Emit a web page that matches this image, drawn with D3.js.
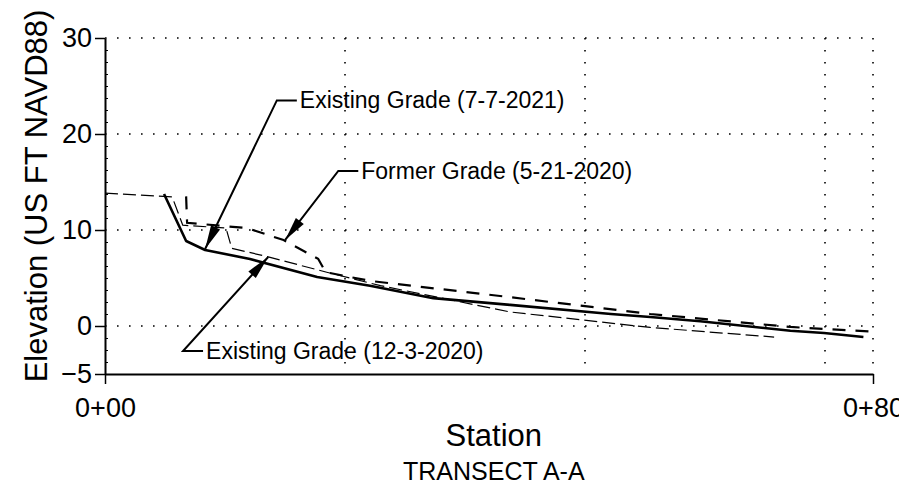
<!DOCTYPE html>
<html>
<head>
<meta charset="utf-8">
<script src="https://cdn.jsdelivr.net/npm/d3@7"></script>
<style>
  body { margin: 0; background: #fff; }
  svg text { font-family: 'Liberation Sans', Arial, sans-serif; fill: #000; }
</style>
</head>
<body>
<div id="graf"></div>
<script>
// Transect A-A profile: station (ft) vs elevation (US FT NAVD88)

// series, [station, elevation]
existing2021 = [[6.15, 13.75], [8.45, 8.85], [10.43, 7.92], [15.1, 6.98], [22.1, 5.1], [27.6, 4.2],
                [34.2, 2.9], [42.2, 2.2], [52.7, 1.25], [56.8, 0.94], [62.0, 0.5], [71.4, -0.5],
                [74.9, -0.73], [79.0, -1.15]]
former2020   = [[8.45, 13.5], [8.55, 10.75], [14.8, 10.2], [18.6, 8.95], [22.2, 7.0], [23.0, 5.6],
                [27.6, 4.7], [42.2, 3.0], [56.8, 1.25], [71.4, -0.1], [80.1, -0.6]]
existing2020 = [[0, 13.85], [7.0, 13.44], [8.1, 10.5], [12.6, 10.2], [13.2, 8.1], [17.0, 7.2],
                [23.1, 5.6], [28.7, 4.2], [42.2, 1.46], [56.8, -0.15], [69.7, -1.15]]

// ticks
yTicks = [-5, 0, 10, 20, 30]
yMinor = [1.25, 2.5, 3.75, 5, 6.25, 7.5, 8.75, 11.25, 12.5, 13.75, 15, 16.25, 17.5, 18.75,
          21.25, 22.5, 23.75, 25, 26.25, 27.5, 28.75, -1.25, -2.5, -3.75]
yGrid  = [0, 10, 20, 30]
xTicks = [0, 80]
xTickLabels = ['0+00', '0+80']
xGrid  = [25, 50, 75, 80]

// callouts: label, tip [sta, elev], elbow [sta, elev]
labels = ['Existing Grade (7-7-2021)', 'Former Grade (5-21-2020)', 'Existing Grade (12-3-2020)']
tips   = [[10.43, 8.02], [18.77, 8.96], [17.0, 7.19]]
elbows = [[17.9, 23.5], [24.3, 16.15], [8.13, -2.6]]

ancho_total = 899
alto_total  = 490
margins = { top: 38, left: 105, right: 26, bottom: 116 }
ancho = ancho_total - margins.left - margins.right
alto  = alto_total - margins.top - margins.bottom

svg = d3.select('#graf').append('svg')
        .attr('width', ancho_total)
        .attr('height', alto_total)

g = svg.append('g')
       .attr('transform', `translate(${margins.left}, ${margins.top})`)

x = d3.scaleLinear().domain([0, 80]).range([0, ancho])
y = d3.scaleLinear().domain([-5, 30]).range([alto, 0])

// dotted grid
g.selectAll('.hgrid').data(yGrid).enter()
  .append('line')
    .attr('x1', 0).attr('x2', x(80))
    .attr('y1', d => y(d)).attr('y2', d => y(d))
    .attr('stroke', '#000').attr('stroke-width', 1.6)
    .attr('stroke-dasharray', '1.6,10.4')

g.selectAll('.vgrid').data(xGrid).enter()
  .append('line')
    .attr('x1', d => x(d)).attr('x2', d => x(d))
    .attr('y1', y(30)).attr('y2', y(-5))
    .attr('stroke', '#000').attr('stroke-width', 1.6)
    .attr('stroke-dasharray', '1.6,10.4')

// axes
yAxis = d3.axisLeft(y).tickValues(yTicks).tickSize(10).tickSizeOuter(0).tickPadding(3)
yAxisMinor = d3.axisRight(y).tickValues(yMinor).tickSize(3).tickSizeOuter(0).tickFormat('')
xAxis = d3.axisBottom(x).tickValues(xTicks).tickSize(10).tickSizeOuter(0).tickPadding(14)
          .tickFormat((d, i) => xTickLabels[i])

yG = g.append('g').call(yAxis)
yMinorG = g.append('g').call(yAxisMinor)
yMinorG.select('.domain').remove()
yMinorG.selectAll('.tick line').attr('stroke-width', 1)
xG = g.append('g').attr('transform', `translate(0,${alto})`).call(xAxis)

;[yG, xG].forEach(a => {
  a.select('.domain').attr('stroke-width', 2)
  a.selectAll('.tick line').attr('stroke-width', 1.5)
  a.selectAll('text').attr('font-size', '27px').attr('font-family', 'Liberation Sans, Arial, sans-serif')
})

// profile lines
line = d3.line().x(d => x(d[0])).y(d => y(d[1]))

g.append('path').datum(existing2020)
  .attr('d', line).attr('fill', 'none')
  .attr('stroke', '#000').attr('stroke-width', 1.2)
  .attr('stroke-dasharray', '13,5')

g.append('path').datum(former2020)
  .attr('d', line).attr('fill', 'none')
  .attr('stroke', '#000').attr('stroke-width', 2.2)
  .attr('stroke-dasharray', '13,10')

g.append('path').datum(existing2021)
  .attr('d', line).attr('fill', 'none')
  .attr('stroke', '#000').attr('stroke-width', 2.6)
  .attr('stroke-linejoin', 'round')

// callouts with arrowheads
labels.forEach((d, i) => {
  tx = x(tips[i][0]), ty = y(tips[i][1])
  ex = x(elbows[i][0]), ey = y(elbows[i][1])
  g.append('path')
    .attr('d', `M${ex + 20},${ey}H${ex}L${tx},${ty}`)
    .attr('fill', 'none').attr('stroke', '#000').attr('stroke-width', 2)

  ang = Math.atan2(ey - ty, ex - tx)
  len = 24, w = 5
  bx = tx + len * Math.cos(ang), by = ty + len * Math.sin(ang)
  px = -Math.sin(ang) * w, py = Math.cos(ang) * w
  g.append('path')
    .attr('d', `M${tx},${ty}L${bx + px},${by + py}L${bx - px},${by - py}Z`)
    .attr('fill', '#000')

  g.append('text')
    .attr('x', ex + 23).attr('y', ey)
    .attr('dy', '0.35em')
    .attr('font-size', '23px')
    .text(d)
})

// titles
g.append('text')
  .attr('x', x(40.5)).attr('y', alto + 72)
  .attr('text-anchor', 'middle')
  .attr('font-size', '31px')
  .text('Station')

g.append('text')
  .attr('x', x(40.5)).attr('y', alto + 106)
  .attr('text-anchor', 'middle')
  .attr('font-size', '25px')
  .text('TRANSECT A-A')

g.append('text')
  .attr('transform', `translate(${-58},${alto / 2 - 10}) rotate(-90)`)
  .attr('text-anchor', 'middle')
  .attr('font-size', '31px')
  .text('Elevation (US FT NAVD88)')
</script>
</body>
</html>
